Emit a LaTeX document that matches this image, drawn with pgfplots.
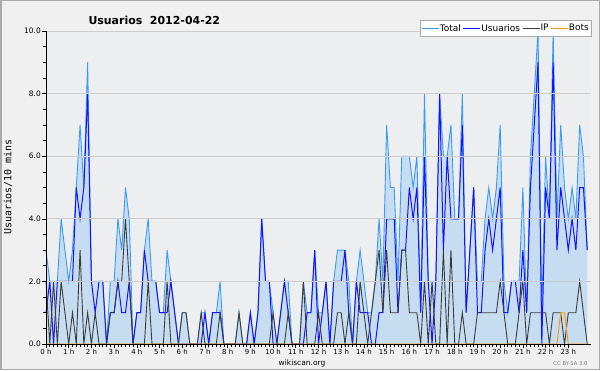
\documentclass[border=0pt]{standalone}
\usepackage{fontspec}
\setmainfont{DejaVu Sans}
\newfontfamily\monofont{DejaVu Sans Mono}
\usepackage{pgfplots}
\usepackage{pgfplotstable}
\pgfplotsset{compat=1.18}
\definecolor{pagebg}{RGB}{240,240,240}
\definecolor{plotbg}{RGB}{236,238,240}
\definecolor{framegray}{RGB}{170,170,170}
\definecolor{gridgray}{RGB}{205,205,205}
\definecolor{shadowgray}{RGB}{110,110,110}
\definecolor{totalline}{RGB}{60,155,245}
\definecolor{totalfill}{RGB}{198,220,240}
\definecolor{userblue}{RGB}{20,20,255}
\definecolor{ipgray}{RGB}{60,60,60}
\definecolor{botorange}{RGB}{255,150,0}

\pgfplotstableread{
i T U IP B
0 3 1 2 0
1 2 2 0 0
2 2 0 2 0
3 2 2 0 0
4 4 2 2 0
5 3 2 1 0
6 2 2 0 0
7 3 2 1 0
8 5 5 0 0
9 7 4 3 0
10 5 5 0 0
11 9 8 1 0
12 2 2 0 0
13 2 1 1 0
14 2 2 0 0
15 2 2 0 0
16 0 0 0 0
17 2 1 1 0
18 2 1 1 0
19 4 2 2 0
20 3 1 2 0
21 5 1 4 0
22 4 2 2 0
23 0 0 0 0
24 1 1 0 0
25 1 1 0 0
26 3 3 0 0
27 4 2 2 0
28 2 2 0 0
29 2 2 0 0
30 1 1 0 0
31 1 1 0 0
32 3 1 2 0
33 2 2 0 0
34 1 1 0 0
35 0 0 0 0
36 1 0 1 0
37 1 0 1 0
38 0 0 0 0
39 0 0 0 0
40 0 0 0 0
41 1 0 1 0
42 1 1 0 0
43 0 0 0 0
44 1 1 0 0
45 1 1 0 0
46 2 1 1 0
47 0 0 0 0
48 0 0 0 0
49 0 0 0 0
50 0 0 0 0
51 1 0 1 0
52 0 0 0 0
53 0 0 0 0
54 1 1 0 0
55 0 0 0 0
56 1 1 0 0
57 4 4 0 0
58 2 2 0 0
59 2 2 0 0
60 1 0 1 0
61 0 0 0 0
62 1 1 0 0
63 2 2 0 0
64 2 1 1 0
65 0 0 0 0
66 0 0 0 0
67 0 0 0 0
68 2 0 2 0
69 1 1 0 0
70 1 1 0 0
71 3 3 0 0
72 1 0 1 0
73 1 1 0 0
74 2 2 0 0
75 0 0 0 0
76 2 2 0 0
77 3 2 1 0
78 3 2 1 0
79 3 3 0 0
80 2 1 1 0
81 0 0 0 0
82 2 2 0 0
83 3 1 2 0
84 2 1 1 0
85 1 1 0 0
86 1 0 1 0
87 2 0 2 0
88 4 1 3 0
89 2 1 1 0
90 7 4 3 0
91 5 4 1 0
92 5 4 1 0
93 2 1 1 0
94 6 3 3 0
95 6 3 3 0
96 6 5 1 0
97 5 4 1 0
98 6 5 1 0
99 1 1 0 0
100 8 6 2 0
101 2 2 0 0
102 2 0 2 0
103 2 2 0 0
104 8 8 0 0
105 6 3 3 0
106 6 6 0 0
107 7 4 3 0
108 4 4 0 0
109 4 4 0 0
110 8 7 1 0
111 1 1 0 0
112 3 3 0 0
113 5 5 0 0
114 2 1 1 0
115 2 1 1 0
116 4 3 1 0
117 5 4 1 0
118 4 3 1 0
119 5 4 1 0
120 7 5 2 0
121 2 1 1 0
122 1 1 0 0
123 2 2 0 0
124 2 2 0 0
125 2 1 1 0
126 5 3 2 0
127 1 1 0 0
128 6 5 1 0
129 8 7 1 0
130 10 9 1 0
131 1 0 1 0
132 6 5 1 0
133 4 4 0 0
134 10 9 1 0
135 4 3 1 0
136 7 5 1 1
137 5 4 0 1
138 4 3 1 0
139 5 4 1 0
140 4 3 1 0
141 7 5 2 0
142 6 5 1 0
143 3 3 0 0
}\datatable

\begin{document}
\begin{tikzpicture}[x=1bp,y=1bp]
\fill[pagebg] (0,0) rectangle (600,370);
\draw[framegray,line width=1.5bp] (0.75,0.75) rectangle (599.25,369.25);
\fill[shadowgray] (422,331.5) rectangle (589,348);
\begin{axis}[
  at={(46bp,26bp)}, anchor=south west,
  scale only axis, width=545bp, height=313bp,
  xmin=0, xmax=144, ymin=0, ymax=10,
  axis background/.style={fill=plotbg},
  axis x line*=bottom, axis y line*=left,
  axis line style={black, line width=0.8bp},
  tick align=outside,
  xtick={0,6,...,138},
  xticklabels={0 h,1 h,2 h,3 h,4 h,5 h,6 h,7 h,8 h,9 h,10 h,11 h,12 h,13 h,14 h,15 h,16 h,17 h,18 h,19 h,20 h,21 h,22 h,23 h},
  minor x tick num=5,
  ytick={0,2,...,10},
  yticklabels={0.0,2.0,4.0,6.0,8.0,10.0},
  minor y tick num=3,
  major tick length=4bp, minor tick length=3bp,
  tick style={black, line width=0.6bp},
  ymajorgrids, grid style={gridgray, line width=0.8bp},
  xticklabel style={font=\fontsize{7}{8}\selectfont, inner sep=1bp},
  yticklabel style={font=\fontsize{7.5}{8}\selectfont, inner sep=1bp},
  axis on top,
  clip=false,
  legend columns=4,
  legend style={at={(1,1.035)}, anchor=north east, draw=framegray, fill=white,
    font=\fontsize{9}{10}\selectfont, inner xsep=1.5bp, inner ysep=2.5bp,
    nodes={inner xsep=0.5bp, inner ysep=1.5bp},
    /tikz/every even column/.append style={column sep=1.5bp}},
]
\addplot[draw=none, fill=totalfill, forget plot] table[x=i, y=T] {\datatable} \closedcycle;
\addplot[totalline, line width=0.9bp] table[x=i, y=T] {\datatable};
\addplot[userblue, line width=1bp] table[x=i, y=U] {\datatable};
\addplot[ipgray, line width=0.9bp] table[x=i, y=IP] {\datatable};
\addplot[botorange, line width=0.9bp] table[x=i, y=B] {\datatable};
\legend{}
\addlegendimage{totalline, line width=1.5bp, legend image code/.code={\draw[totalline, line width=1.5bp] (0bp,0bp) -- (12bp,0bp);}}
\addlegendentry{Total}
\addlegendimage{userblue, line width=1.5bp, legend image code/.code={\draw[userblue, line width=1.5bp] (0bp,0bp) -- (12bp,0bp);}}
\addlegendentry{Usuarios}
\addlegendimage{ipgray, line width=1.5bp, legend image code/.code={\draw[ipgray, line width=1.5bp] (0bp,0bp) -- (11bp,0bp);}}
\addlegendentry{IP}
\addlegendimage{botorange, line width=1.5bp, legend image code/.code={\draw[botorange, line width=1.5bp] (0bp,0bp) -- (12bp,0bp);}}
\addlegendentry{Bots}
\end{axis}
\node[anchor=base west, font=\bfseries\fontsize{11}{13}\selectfont] at (85,346) {Usuarios\ \ 2012-04-22};
\node[rotate=90, font=\monofont\fontsize{10}{11}\selectfont] at (8,183) {Usuarios/10 mins};
\node[anchor=base, font=\fontsize{7.5}{9}\selectfont] at (302,5) {wikiscan.org};
\node[anchor=base east, font=\fontsize{5.3}{6}\selectfont, text=gray] at (591,5) {CC BY-SA 3.0};
\end{tikzpicture}
\end{document}
